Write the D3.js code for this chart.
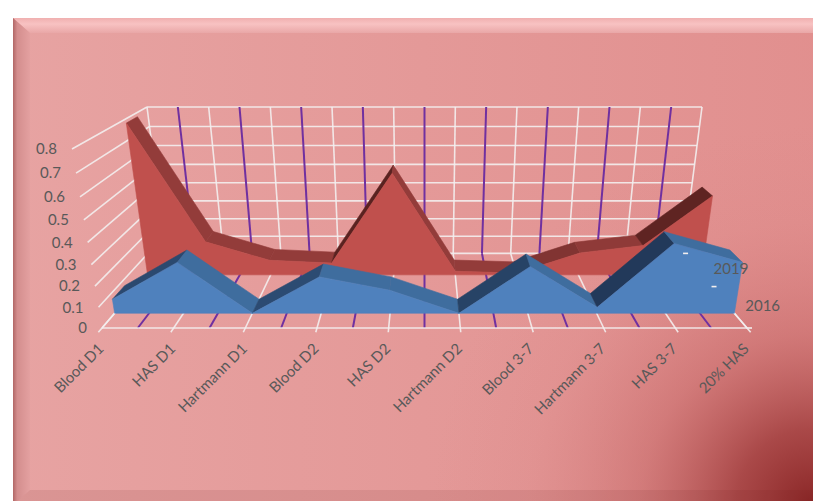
<!DOCTYPE html>
<html><head><meta charset="utf-8">
<script src="https://cdn.jsdelivr.net/npm/d3@7"></script>
<style>html,body{margin:0;padding:0;background:#fff;overflow:hidden}</style>
</head><body><svg id="c" width="813" height="501"></svg>
<script>
// ---------- data ----------
const categories = ["Blood D1","HAS D1","Hartmann D1","Blood D2","HAS D2","Hartmann D2","Blood 3-7","Hartmann 3-7","HAS 3-7","20% HAS"];
const series = ["2016","2019"];
const values2016 = [0.07,0.25,0,0.18,0.115,0,0.23,0.03,0.34,0.25];
const values2019 = [0.78,0.18,0.08,0.065,0.535,0.02,0.01,0.12,0.16,0.42];
const valueTicks = [0,0.1,0.2,0.3,0.4,0.5,0.6,0.7,0.8];
const tickLabels = ["0","0.1","0.2","0.3","0.4","0.5","0.6","0.7","0.8"];
const seriesColors = {"2016":{front:"#4F81BD",top:"#3F6D9E",dark:"#22395A"},
                      "2019":{front:"#C0504D",top:"#933C3A",dark:"#5A2220"}};
const seriesValues = {"2016":values2016,"2019":values2019};

// ---------- scales ----------
const xScale = d3.scalePoint().domain(categories).range([-4.5,4.5]);
const yScale = d3.scaleLinear().domain([0,0.8]).range([0,1]);
const zScale = d3.scaleBand().domain(series).range([0,1]).paddingInner(0.66).paddingOuter(0.33);

// ---------- perspective camera ----------
const K=71.67, U0=424.5, C2=-0.0851, C3=0.2473, B2=-191.7, B3=-11.95, B4=328;
function proj(x,y,z){const w=1+C2*y+C3*z;return [U0+x*K/w,(B2*y+B3*z+B4)/w];}

const svg=d3.select('#c');
const defs=svg.append('defs');
function lg(id,x1,y1,x2,y2,stops){const g=defs.append('linearGradient').attr('id',id)
  .attr('x1',x1).attr('y1',y1).attr('x2',x2).attr('y2',y2);
  stops.forEach(s=>g.append('stop').attr('offset',s[0]).attr('stop-color',s[1]).attr('stop-opacity',s[2]==null?1:s[2]));}
lg('face',0,0,1,0,[[0,'#E7A3A2'],[1,'#E18F8E']]);
lg('topb',0,0,0,1,[[0,'#F0B0B0'],[0.4,'#F8C2C2'],[1,'#E9A7A7']]);
lg('leftb',0,0,1,0,[[0,'#A85C5C'],[0.25,'#D08A8A'],[1,'#E3A0A0']]);
const rg=defs.append('radialGradient').attr('id','shade').attr('gradientUnits','userSpaceOnUse')
  .attr('cx',812).attr('cy',505).attr('r',380);
[[0,'#8A2626',1],[0.2,'#A03C3C',0.85],[0.45,'#BE5C5C',0.45],[0.75,'#D27878',0.12],[1,'#D88080',0]]
  .forEach(s=>rg.append('stop').attr('offset',s[0]).attr('stop-color',s[1]).attr('stop-opacity',s[2]));

// ---------- frame ----------
svg.append('rect').attr('x',13).attr('y',18).attr('width',820).attr('height',500).attr('fill','url(#face)');
svg.append('rect').attr('x',13).attr('y',18).attr('width',820).attr('height',500).attr('fill','url(#shade)');
svg.append('polygon').attr('points','13,18 830,18 815,33 30,33').attr('fill','url(#topb)');
svg.append('polygon').attr('points','13,18 30,33 30,490 13,505').attr('fill','url(#leftb)').attr('opacity',0.85);
svg.append('polygon').attr('points','13,505 30,490 813,490 813,505').attr('fill','#6a1d1d').attr('opacity',0.10);

const line=(a,b)=>'M'+a[0]+','+a[1]+'L'+b[0]+','+b[1];
const grid=svg.append('g');
const white={stroke:'#F3EEEE','stroke-width':1.6,'stroke-opacity':0.9};
const purple={stroke:'#7030A0','stroke-width':2};
function seg(a,b,st){const p=grid.append('path').attr('d',line(a,b)).attr('fill','none');
  Object.entries(st).forEach(([k,v])=>p.attr(k,v));}
const xs=categories.map(c=>xScale(c));
const mids=d3.pairs(xs).map(([a,b])=>(a+b)/2);
const xmin=xs[0], xmax=xs[xs.length-1];

// back wall
valueTicks.forEach(t=>seg(proj(xmin,yScale(t),1),proj(xmax,yScale(t),1),white));
xs.forEach(x=>seg(proj(x,0,1),proj(x,1,1),white));
mids.forEach(x=>seg(proj(x,0,1),proj(x,1,1),purple));
// left wall
valueTicks.forEach(t=>seg(proj(xmin,yScale(t),0),proj(xmin,yScale(t),1),white));
// floor
xs.forEach(x=>seg(proj(x,0,-0.045),proj(x,0,1),white));
mids.forEach(x=>seg(proj(x,0,0),proj(x,0,1),purple));
seg(proj(xmin,0,0),proj(xmax,0,0),white);
seg(proj(xmax,0,0),proj(xmax,0,1),white);

// ---------- series (back first) ----------
const plot=svg.append('g');
const deg=180/Math.PI;
[...series].reverse().forEach(s=>{
  const vals=seriesValues[s], col=seriesColors[s];
  const zf=zScale(s), zb=zf+zScale.bandwidth();
  const g=plot.append('g');
  d3.pairs(vals.map((v,i)=>[xs[i],yScale(v)])).forEach(([p,q])=>{
    const a=proj(p[0],p[1],zf), b=proj(q[0],q[1],zf), c=proj(q[0],q[1],zb), d=proj(p[0],p[1],zb);
    const th=Math.atan2(a[1]-b[1],b[0]-a[0])*deg;
    const t=th<=0?0:Math.pow(Math.min(1,th/38),1.5);
    const fill=d3.interpolateRgb(col.top,col.dark)(t);
    g.append('path').attr('d','M'+[a,b,c,d].join('L')+'Z').attr('fill',fill).attr('stroke',fill).attr('stroke-width',0.6);
  });
  const pts=vals.map((v,i)=>proj(xs[i],yScale(v),zf));
  pts.push(proj(xmax,0,zf)); pts.push(proj(xmin,0,zf));
  g.append('path').attr('d','M'+pts.join('L')+'Z').attr('fill',col.front).attr('stroke',col.front).attr('stroke-width',0.6);
});

// depth-axis tick marks (drawn over)
[0,0.5,1].forEach(z=>{const p=proj(xmax,0,z);
  svg.append('path').attr('d',line(p,[p[0]+5,p[1]])).attr('stroke','#F3EEEE').attr('stroke-width',1.6);});

// ---------- text ----------
const txt=svg.append('g').attr('font-family','Lato, "Open Sans", sans-serif').attr('font-size',15).attr('fill','#595959');
valueTicks.forEach((t,i)=>{const p=proj(xmin,yScale(t),0);
  txt.append('text').attr('x',p[0]-15).attr('y',p[1]).attr('dy','0.35em').attr('text-anchor','end').text(tickLabels[i]);});
categories.forEach(c=>{const p=proj(xScale(c),0,0);const px=p[0]-1, py=p[1]+18;
  txt.append('text').attr('transform','translate('+px+','+py+') rotate(-45)').attr('dy','0.35em').attr('text-anchor','end').text(c);});
series.forEach(s=>{const p=proj(xmax,0,zScale(s)+zScale.bandwidth()/2);
  txt.append('text').attr('x',p[0]+17).attr('y',p[1]).attr('dy','0.35em').text(s);});
</script></body></html>
